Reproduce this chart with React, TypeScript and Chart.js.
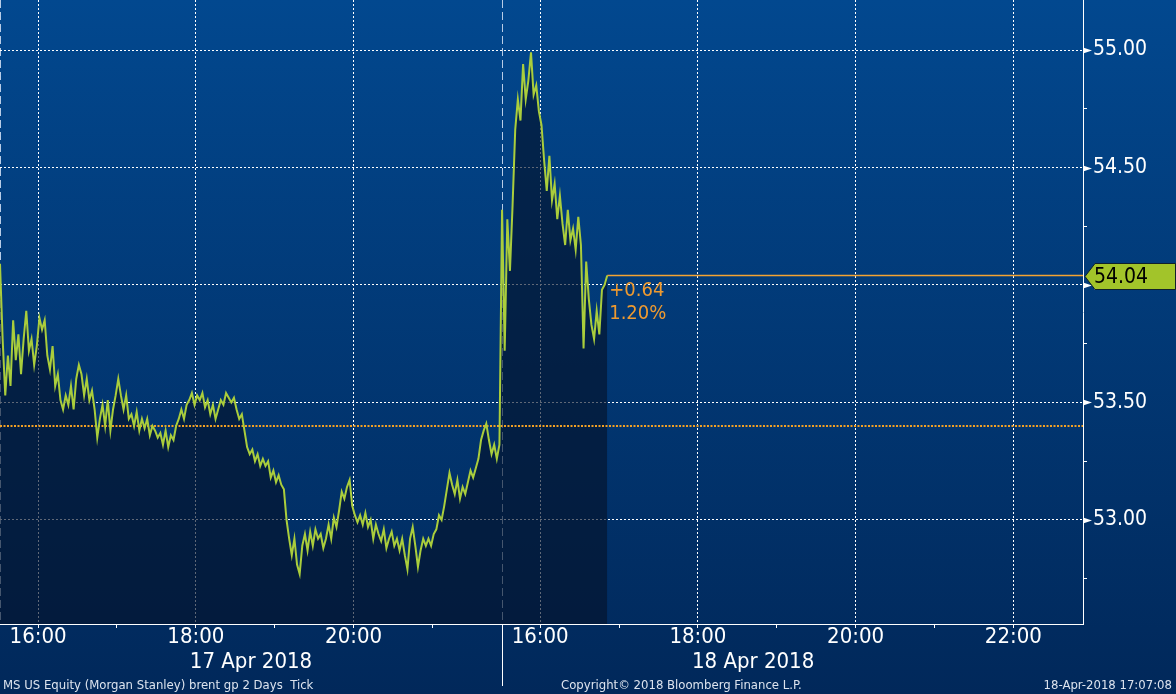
import React, { useEffect, useRef } from "react";
import { Chart, registerables } from "chart.js";

Chart.register(...registerables);

// ---- data (prices, one sample every 2 minutes) ----
const day1Prices = [
  54.09, 53.77, 53.53, 53.70, 53.57, 53.85, 53.68, 53.79, 53.62, 53.77,
  53.89, 53.72, 53.77, 53.66, 53.74, 53.86, 53.81, 53.85, 53.70, 53.64,
  53.74, 53.57, 53.62, 53.51, 53.47, 53.53, 53.49, 53.57, 53.47, 53.60,
  53.66, 53.62, 53.53, 53.60, 53.51, 53.55, 53.47, 53.35, 53.43, 53.49,
  53.40, 53.51, 53.38, 53.47, 53.53, 53.60, 53.53, 53.47, 53.53, 53.43,
  53.45, 53.40, 53.46, 53.38, 53.43, 53.39, 53.43, 53.36, 53.40, 53.38,
  53.35, 53.37, 53.32, 53.38, 53.31, 53.36, 53.34, 53.40, 53.43, 53.47,
  53.43, 53.49, 53.51, 53.54, 53.49, 53.53, 53.51, 53.54, 53.48, 53.51,
  53.45, 53.49, 53.43, 53.47, 53.51, 53.49, 53.54, 53.52, 53.50, 53.52,
  53.47, 53.43, 53.45, 53.38, 53.31, 53.28, 53.30, 53.25, 53.28, 53.23,
  53.26, 53.23, 53.25, 53.18, 53.21, 53.16, 53.19, 53.15, 53.13, 53.00,
  52.92, 52.85, 52.92, 52.81, 52.77, 52.89, 52.94, 52.87, 52.95, 52.89,
  52.96, 52.92, 52.94, 52.88, 52.92, 52.98, 52.92, 53.01, 52.97, 53.04,
  53.12, 53.09, 53.14, 53.17, 53.06, 53.02, 52.99, 53.02, 52.98, 53.03,
  52.97, 53.00, 52.92, 52.98, 52.94, 52.91, 52.96, 52.88, 52.92, 52.95,
  52.89, 52.92, 52.87, 52.92, 52.85, 52.79, 52.92, 52.97, 52.89, 52.80,
  52.87, 52.92, 52.89, 52.92, 52.89, 52.94, 52.96, 53.02, 53.00, 53.06,
  53.13, 53.20, 53.15, 53.11, 53.17, 53.09, 53.14, 53.11, 53.16, 53.21,
  53.18, 53.22, 53.26, 53.34, 53.38, 53.41, 53.34, 53.28, 53.32, 53.26,
  53.32,
];
const day2Prices = [
  54.32, 53.72, 54.28, 54.06, 54.34, 54.66, 54.79, 54.70, 54.94, 54.79,
  54.87, 54.99, 54.81, 54.85, 54.74, 54.68, 54.53, 54.40, 54.55, 54.36,
  54.43, 54.28, 54.38, 54.26, 54.17, 54.32, 54.19, 54.24, 54.15, 54.29,
  54.17, 53.73, 54.10, 53.94, 53.83, 53.77, 53.89, 53.79, 53.98, 54.00,
  54.04,
];
const dayLabels = ["17 Apr 2018", "18 Apr 2018"];
const dayHours = [
  [16, 17, 18, 19, 20, 21],
  [16, 17, 18, 19, 20, 21, 22],
];
const yMajorTicks = [53.0, 53.5, 54.0, 54.5, 55.0];
const yMinorTicks = [52.75, 53.25, 53.75, 54.25, 54.75];
const prevClose = 53.4;
const lastPrice = 54.04;
const changeText = "+0.64";
const changePctText = "1.20%";
const footerLeft = "MS US Equity (Morgan Stanley) brent gp 2 Days  Tick";
const footerMid = "Copyright\u00A9 2018 Bloomberg Finance L.P.";
const footerRight = "18-Apr-2018 17:07:08";

// ---- axis geometry (time units: minutes on a gap-less 2-day axis) ----
const SESSION_START_MIN = 15 * 60 + 31;
const SESSION_LEN = 382;
const STEP_MIN = 2;
const X_MAX = 824;
const Y_MIN = 52.557;
const Y_MAX = 55.213;

const FONT = '"DejaVu Sans Condensed", "DejaVu Sans", sans-serif';
const WHITE = "#ffffff";
const CLEAR = "rgba(0,0,0,0)";

const hourToX = (day: number, hour: number) => day * SESSION_LEN + hour * 60 - SESSION_START_MIN;

const pricePoints = [
  ...day1Prices.map((p, i) => ({ x: i * STEP_MIN, y: p })),
  ...day2Prices.map((p, i) => ({ x: SESSION_LEN + i * STEP_MIN, y: p })),
];
const lastX = pricePoints[pricePoints.length - 1].x;

type XT = { value: number; kind: string; lbl: string | string[] };
function buildXTicks(): XT[] {
  const hourTicks: XT[] = [];
  dayHours.forEach((hours, d) =>
    hours.forEach((h) =>
      hourTicks.push({
        value: hourToX(d, h),
        kind: h % 2 === 0 ? "major" : "minor",
        lbl: h % 2 === 0 ? `${h}:00` : "",
      })
    )
  );
  const extra: XT[] = [];
  dayLabels.forEach((lab, d) => {
    extra.push({ value: d * SESSION_LEN, kind: "sep", lbl: "" });
    extra.push({ value: d * SESSION_LEN + SESSION_LEN / 2, kind: "date", lbl: ["", lab] });
  });
  return [hourTicks[0], ...extra, ...hourTicks.slice(1)];
}

const bgPlugin = {
  id: "bbgBackground",
  beforeDraw(chart: any) {
    const { ctx, width, height } = chart;
    const g = ctx.createLinearGradient(0, 0, 0, height);
    g.addColorStop(0, "#02488f");
    g.addColorStop(1, "#01285a");
    ctx.save();
    ctx.fillStyle = g;
    ctx.fillRect(0, 0, width, height);
    ctx.restore();
  },
};

const overlayPlugin = {
  id: "bbgOverlay",
  afterDraw(chart: any) {
    const { ctx, chartArea, scales } = chart;
    const xs = scales.x;
    const ys = scales.y;
    ctx.save();
    // arrow heads at the major price ticks
    ctx.fillStyle = WHITE;
    yMajorTicks.forEach((v) => {
      const py = Math.round(ys.getPixelForValue(v)) + 0.5;
      ctx.beginPath();
      ctx.moveTo(chartArea.right, py - 3);
      ctx.lineTo(chartArea.right + 9, py);
      ctx.lineTo(chartArea.right, py + 3);
      ctx.closePath();
      ctx.fill();
    });
    // day separator through the time axis
    const sx = Math.round(xs.getPixelForValue(SESSION_LEN)) + 0.5;
    ctx.strokeStyle = WHITE;
    ctx.lineWidth = 1;
    ctx.beginPath();
    ctx.moveTo(sx, chartArea.bottom);
    ctx.lineTo(sx, chartArea.bottom + 62);
    ctx.stroke();
    // change text
    const lx = xs.getPixelForValue(lastX) + 2;
    const ly = ys.getPixelForValue(lastPrice);
    ctx.fillStyle = "#ee9a30";
    ctx.font = `20px ${FONT}`;
    ctx.textAlign = "left";
    ctx.textBaseline = "middle";
    ctx.fillText(changeText, lx, ly + 15);
    ctx.fillText(changePctText, lx, ly + 38);
    // last price tag
    const tx = chartArea.right + 2;
    const ty = Math.round(ly) + 0.5;
    ctx.beginPath();
    ctx.moveTo(tx, ty);
    ctx.lineTo(tx + 10, ty - 13);
    ctx.lineTo(chart.width - 0.5, ty - 13);
    ctx.lineTo(chart.width - 0.5, ty + 13);
    ctx.lineTo(tx + 10, ty + 13);
    ctx.closePath();
    ctx.fillStyle = "#a2c42a";
    ctx.fill();
    ctx.strokeStyle = "#10202a";
    ctx.stroke();
    ctx.fillStyle = "#000000";
    ctx.font = `21px ${FONT}`;
    ctx.fillText(lastPrice.toFixed(2), tx + 9, ty + 1);
    // footer
    ctx.fillStyle = "#dce3ee";
    ctx.font = `13px ${FONT}`;
    ctx.textBaseline = "middle";
    ctx.textAlign = "left";
    ctx.fillText(footerLeft, 3, 686);
    ctx.fillText(footerMid, 561, 686);
    ctx.textAlign = "right";
    ctx.fillText(footerRight, chart.width - 4, 686);
    ctx.restore();
  },
};

export default function App() {
  const ref = useRef<HTMLCanvasElement | null>(null);
  useEffect(() => {
    document.body.style.margin = "0";
    const canvas = ref.current;
    if (!canvas) return;
    const xTicks = buildXTicks();
    const yTicks = [
      ...yMajorTicks.map((v) => ({ value: v, kind: "major" })),
      ...yMinorTicks.map((v) => ({ value: v, kind: "minor" })),
    ].sort((a, b) => a.value - b.value);

    const chart = new Chart(canvas, {
      type: "line",
      data: {
        datasets: [
          {
            data: pricePoints,
            borderColor: "#aacd3c",
            borderWidth: 2,
            pointRadius: 0,
            tension: 0,
            fill: "start",
            backgroundColor: "rgba(4,18,42,0.64)",
            order: 0,
          },
          {
            data: [
              { x: 0, y: prevClose },
              { x: X_MAX, y: prevClose },
            ],
            borderColor: "#f2a024",
            borderWidth: 2,
            borderDash: [2, 1.5],
            pointRadius: 0,
            fill: false,
            order: 1,
          },
          {
            data: [
              { x: lastX, y: lastPrice },
              { x: X_MAX, y: lastPrice },
            ],
            borderColor: "#f5a332",
            borderWidth: 1.5,
            pointRadius: 0,
            fill: false,
            order: 2,
          },
        ],
      },
      options: {
        animation: false,
        responsive: false,
        maintainAspectRatio: false,
        devicePixelRatio: 1,
        layout: { padding: 0 },
        plugins: {
          legend: { display: false },
          tooltip: { enabled: false },
          filler: { drawTime: "beforeDatasetsDraw" },
        },
        scales: {
          x: {
            type: "linear",
            position: "bottom",
            min: 0,
            max: X_MAX,
            afterFit: (s: any) => {
              s.height = 70;
              s.paddingLeft = 0;
              s.paddingRight = 0;
            },
            afterBuildTicks: (s: any) => {
              s.ticks = xTicks.map((t) => ({ ...t }));
            },
            grid: {
              drawOnChartArea: true,
              drawTicks: true,
              tickLength: 4,
              lineWidth: 1,
              color: (c: any) =>
                c.tick?.kind === "major" ? WHITE : c.tick?.kind === "sep" ? "#b8cce6" : CLEAR,
              tickColor: (c: any) =>
                c.tick?.kind === "major" || c.tick?.kind === "minor" ? WHITE : CLEAR,
            },
            border: {
              display: true,
              color: WHITE,
              width: 1,
              dash: (c: any) => (c.tick?.kind === "sep" ? [8, 4] : [2, 2]),
            },
            ticks: {
              autoSkip: false,
              maxRotation: 0,
              minRotation: 0,
              padding: -3,
              color: WHITE,
              font: { family: FONT, size: 22, lineHeight: 1.14 },
              callback: (_v: any, i: number, ticks: any[]) => ticks[i].lbl,
            },
          },
          y: {
            type: "linear",
            position: "right",
            min: Y_MIN,
            max: Y_MAX,
            afterFit: (s: any) => {
              s.width = 93;
              s.paddingTop = 0;
              s.paddingBottom = 0;
            },
            afterBuildTicks: (s: any) => {
              s.ticks = yTicks.map((t) => ({ ...t }));
            },
            grid: {
              drawOnChartArea: true,
              drawTicks: true,
              tickLength: 4,
              lineWidth: 1,
              color: (c: any) => (c.tick?.kind === "major" ? WHITE : CLEAR),
              tickColor: WHITE,
            },
            border: { display: true, color: WHITE, width: 1, dash: [2, 2] },
            ticks: {
              autoSkip: false,
              padding: 6,
              color: WHITE,
              font: { family: FONT, size: 21 },
              callback: (v: any, i: number, ticks: any[]) =>
                ticks[i].kind === "major" ? Number(v).toFixed(2) : "",
            },
          },
        },
      },
      plugins: [bgPlugin, overlayPlugin],
    } as any);
    return () => chart.destroy();
  }, []);

  return (
    <div style={{ position: "fixed", left: 0, top: 0, width: 1176, height: 694 }}>
      <canvas ref={ref} width={1176} height={694} style={{ display: "block", width: 1176, height: 694 }} />
    </div>
  );
}
